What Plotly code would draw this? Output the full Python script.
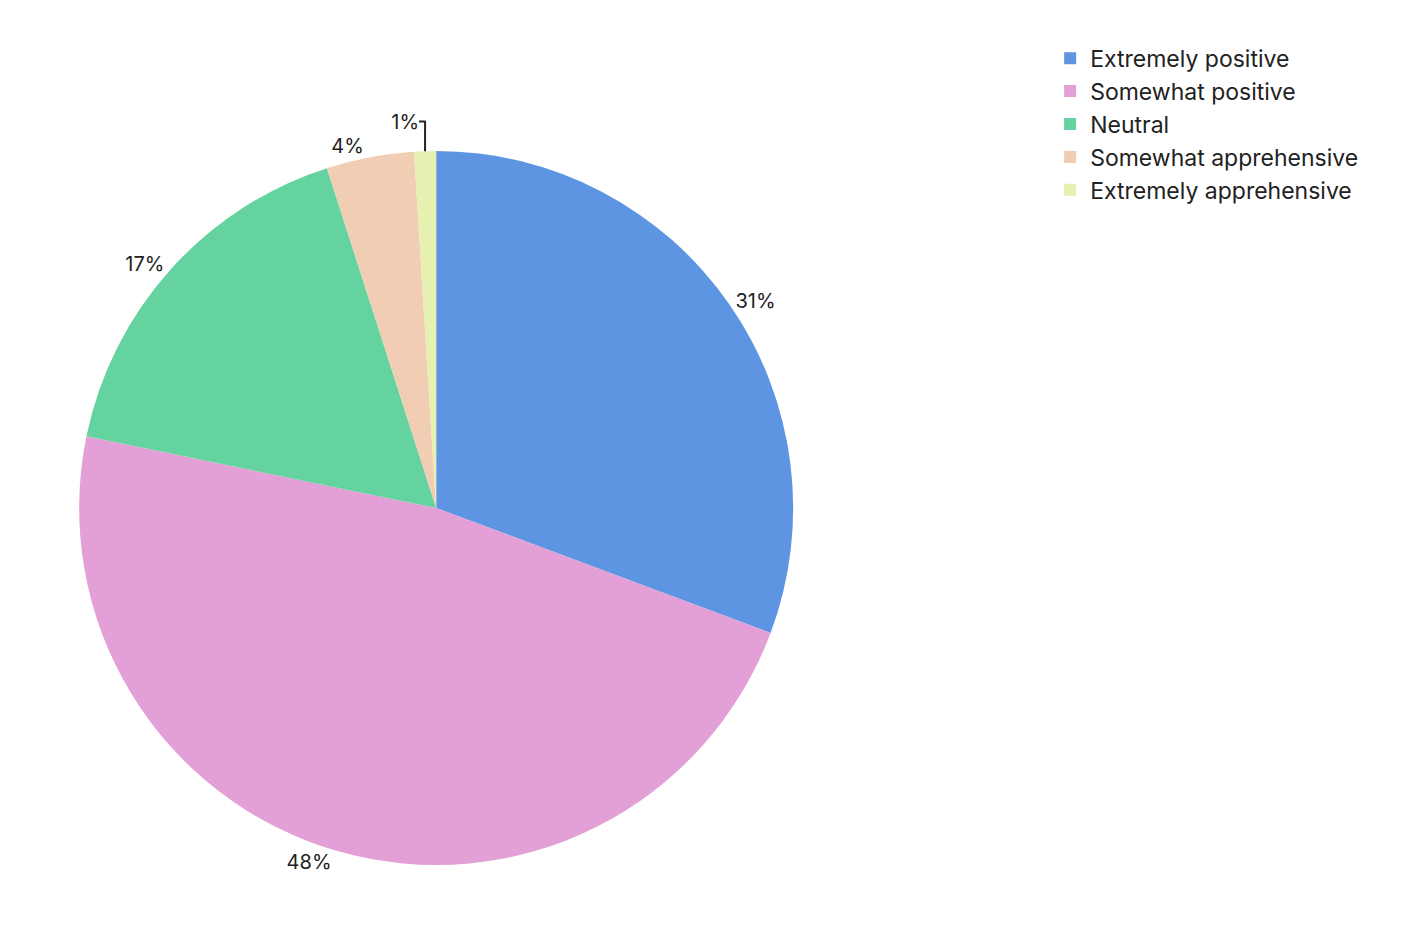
import plotly.graph_objects as go

labels = ["Extremely positive", "Somewhat positive", "Neutral", "Somewhat apprehensive", "Extremely apprehensive"]
values = [31, 48, 17, 4, 1]
colors = ["#5e95e3", "#e3a0d7", "#64d3a0", "#f0cdb3", "#e6f0b0"]
texts = [f"{v}%" for v in values]

fig = go.Figure(go.Pie(
    labels=labels, values=values, text=texts, textinfo="text",
    textposition="outside", sort=False, direction="clockwise", rotation=0,
    marker=dict(colors=colors), textfont=dict(size=20, color="#222"),
    domain=dict(x=[0.037, 0.558], y=[0, 1]), hoverinfo="label+percent",
))
fig.update_layout(
    width=1412, height=928, paper_bgcolor="white", plot_bgcolor="white",
    margin=dict(l=20, r=20, t=143, b=71),
    font=dict(family="Inter, Noto Sans, sans-serif", size=23, color="#222"),
    legend=dict(x=0.745, y=1.16, xanchor="left", yanchor="top",
                font=dict(size=23), itemwidth=30),
)
fig.write_html("out.html")
